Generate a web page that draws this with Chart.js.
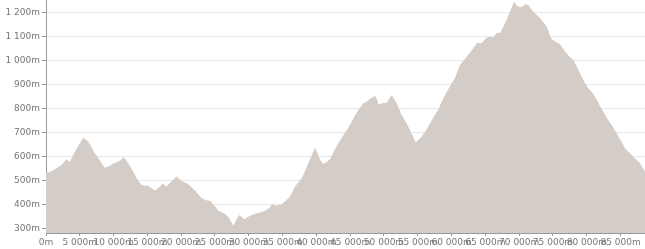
<!DOCTYPE html>
<html>
<head>
<meta charset="utf-8">
<script src="https://cdn.jsdelivr.net/npm/chart.js@4/dist/chart.umd.min.js"></script>
<style>
html,body{margin:0;padding:0;background:#fff;}
#wrap{width:645px;height:249px;position:relative;}
</style>
</head>
<body>
<div id="wrap"><canvas id="c"></canvas></div>
<script>
// distance along route (m)
const distances = [0,600,1670,2367,3003,3506,4438,5518,6213,7101,7840,8684,9468,10059,10799,11539,12130,12766,13462,14009,14497,15089,15533,16124,16864,17264,17752,18343,19335,19823,20311,21050,22042,23033,23669,24261,24852,25488,26479,27071,27707,28107,28595,29334,29882,30429,30917,31657,32397,33136,33388,34128,34867,35503,36095,36835,37826,38314,38802,39349,39793,40237,40533,41021,41568,42012,42604,43240,44083,44971,45562,46198,46938,47441,48077,48669,48965,49187,49660,50400,51139,51879,52618,53255,53847,54690,55577,56213,56805,57397,58033,58284,59024,60015,60503,61243,62234,63211,63802,64453,64941,65430,66169,66672,67160,67900,68640,69231,69527,69867,70370,70858,71347,71850,72486,73077,74069,74808,75444,76036,76776,77367,78003,78551,78995,79586,80222,80770,81214,81805,82441,82989,83684,84172,84660,85208,85651,86243,86880,87427,87870,88610];
// elevation (m)
const elevations = [535,537,555,568,590,579,630,680,665,622,590,555,563,574,582,599,575,546,510,486,480,480,472,460,476,490,476,492,518,505,497,486,460,428,420,417,400,376,363,345,314,335,358,340,350,358,363,368,376,390,403,397,403,418,435,476,511,540,574,608,639,610,588,571,580,590,625,657,695,733,765,796,824,830,845,855,840,817,824,826,858,824,775,745,712,660,685,710,740,770,796,815,858,907,930,983,1018,1053,1076,1074,1090,1101,1099,1118,1115,1157,1205,1248,1235,1226,1224,1236,1233,1212,1195,1180,1143,1090,1080,1070,1040,1020,1004,975,949,915,886,870,851,820,789,760,733,710,685,660,636,620,601,585,574,540];
// tick values
const xTicks = [0,5000,10000,15000,20000,25000,30000,35000,40000,45000,50000,55000,60000,65000,70000,75000,80000,85000];
const yTicks = [300,400,500,600,700,800,900,1000,1100,1200];

function fmt(v){
  return String(Math.round(v)).replace(/\B(?=(\d{3})+(?!\d))/g,' ') + 'm';
}

const points = distances.map((d,i)=>({x:d,y:elevations[i]}));
const font = {family:'"DejaVu Sans", Verdana, sans-serif', size:9};

new Chart(document.getElementById('c'), {
  type:'line',
  data:{datasets:[{
    data:points,
    fill:'start',
    backgroundColor:'rgb(212,204,198)',
    borderColor:'rgb(212,204,198)',
    borderWidth:0,
    pointRadius:0,
    tension:0
  }]},
  options:{
    responsive:true,
    maintainAspectRatio:false,
    animation:false,
    layout:{padding:0},
    plugins:{legend:{display:false},tooltip:{enabled:false}},
    scales:{
      x:{
        type:'linear',
        min:0,
        max:88610,
        afterBuildTicks(s){s.ticks = xTicks.map(v=>({value:v}));},
        afterFit(s){s.height=16; s.paddingLeft=0; s.paddingRight=0;},
        grid:{drawOnChartArea:false,drawTicks:true,tickLength:3,tickColor:'#999'},
        border:{color:'#999'},
        ticks:{autoSkip:false,maxRotation:0,minRotation:0,padding:1,color:'#777',font:font,callback:(v)=>fmt(v)}
      },
      y:{
        type:'linear',
        min:283,
        max:1254,
        afterBuildTicks(s){s.ticks = yTicks.map(v=>({value:v}));},
        afterFit(s){s.width=46; s.paddingTop=0; s.paddingBottom=0;},
        grid:{color:'#e8e8e8',tickLength:4,tickColor:'#999'},
        border:{color:'#999'},
        ticks:{autoSkip:false,padding:2,color:'#777',font:font,callback:(v)=>fmt(v)}
      }
    }
  }
});
</script>
</body>
</html>
